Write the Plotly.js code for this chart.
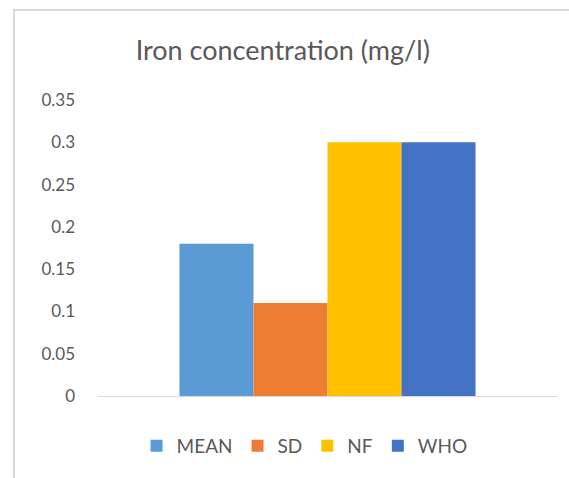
<!DOCTYPE html>
<html>
<head>
<meta charset="utf-8">
<script src="https://cdn.plot.ly/plotly-3.0.1.min.js"></script>
<style>html,body{margin:0;padding:0;background:#fff;}#chart{width:569px;height:478px;}</style>
</head>
<body>
<div id="chart"></div>
<script>
const categories = ["Iron"];
const seriesNames = ["MEAN", "SD", "NF", "WHO"];
const seriesValues = [[0.18], [0.11], [0.30], [0.30]];
const seriesColors = ["#5B9BD5", "#ED7D31", "#FFC000", "#4472C4"];
const yTickVals = [0, 0.05, 0.1, 0.15, 0.2, 0.25, 0.3, 0.35];
const yTickText = ["0", "0.05", "0.1", "0.15", "0.2", "0.25", "0.3", "0.35"];

const traces = seriesNames.map((n, i) => ({
  type: "bar",
  name: n,
  x: categories,
  y: seriesValues[i],
  marker: {color: seriesColors[i]},
  hoverinfo: "none"
}));

const layout = {
  width: 569, height: 478,
  margin: {l: 98, r: 12, t: 100, b: 82},
  paper_bgcolor: "#ffffff",
  plot_bgcolor: "#ffffff",
  font: {family: "Lato, 'Open Sans', sans-serif", color: "#595959"},
  title: {text: "Iron concentration (mg/l)", font: {size: 27, color: "#595959"}, x: 0.497, xanchor: "center", y: 0.895, yanchor: "middle"},
  barmode: "group",
  bargap: 0.355,
  bargroupgap: 0,
  xaxis: {showticklabels: false, showgrid: false, zeroline: false, showline: true, linecolor: "#d9d9d9", linewidth: 1, ticks: ""},
  yaxis: {range: [0, 0.35], tickvals: yTickVals, ticktext: yTickText, showgrid: false, zeroline: false, showline: false, ticks: "", ticklabelstandoff: 22, tickfont: {size: 17, color: "#595959"}},
  showlegend: true,
  legend: {orientation: "h", x: 0.45, xanchor: "center", y: -0.169, yanchor: "middle", font: {size: 19, color: "#595959"}, itemwidth: 30, tracegroupgap: 0},
  shapes: [{
    type: "path", xref: "paper", yref: "paper",
    path: "M -0.183 -0.3 L -0.183 1.304 L 1.05 1.304",
    line: {color: "#d9d9d9", width: 2}
  }]
};

Plotly.newPlot("chart", traces, layout, {displayModeBar: false, staticPlot: true});
</script>
</body>
</html>
